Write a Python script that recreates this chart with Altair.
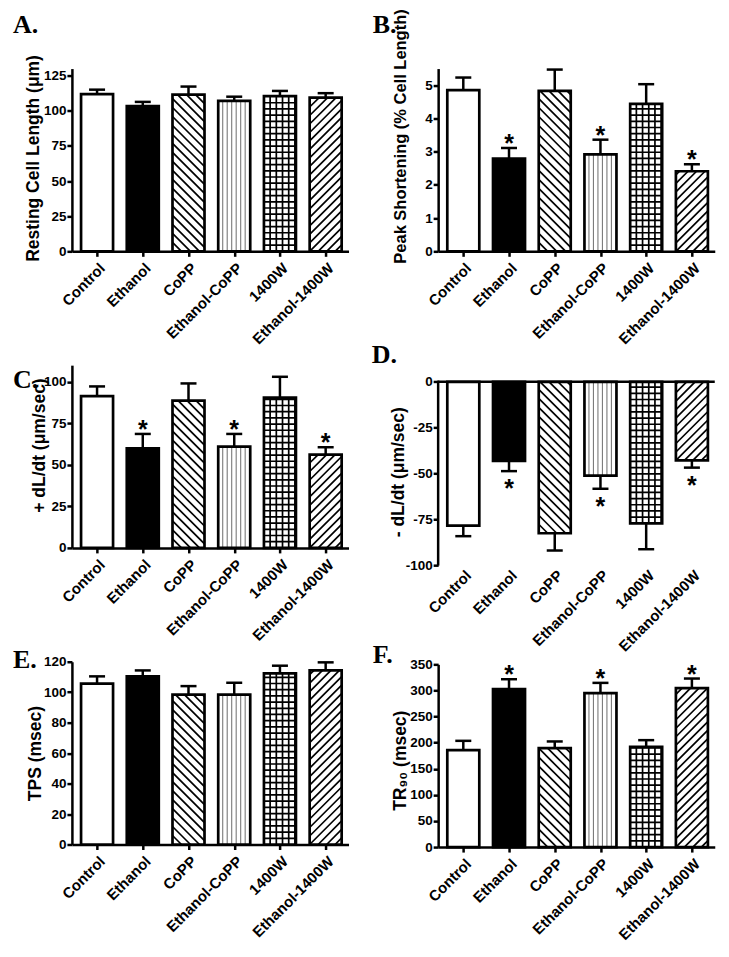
import math
import altair as alt
import pandas as pd

groups = ["Control", "Ethanol", "CoPP", "Ethanol-CoPP", "1400W", "Ethanol-1400W"]
patterns = ["none", "solid", "back", "vert", "grid", "fwd"]

a_mean = [111.8, 103.3, 111.5, 107.0, 110.4, 109.4]
a_err = [115.0, 106.3, 117.2, 110.0, 114.1, 112.5]
a_star = [0, 0, 0, 0, 0, 0]

b_mean = [4.85, 2.79, 4.83, 2.92, 4.44, 2.41]
b_err = [5.23, 3.11, 5.47, 3.36, 5.03, 2.62]
b_star = [0, 1, 0, 1, 0, 1]

c_mean = [91.4, 60.0, 88.6, 61.0, 90.4, 56.2]
c_err = [97.2, 68.6, 99.0, 68.6, 103.0, 60.6]
c_star = [0, 1, 0, 1, 0, 1]

d_mean = [-78.3, -43.1, -82.4, -51.1, -77.0, -42.8]
d_err = [-84.0, -48.6, -91.8, -58.2, -91.1, -46.7]
d_star = [0, 1, 0, 1, 0, 1]

e_mean = [105.6, 110.4, 98.4, 98.4, 112.3, 114.3]
e_err = [110.4, 114.3, 104.0, 106.2, 117.4, 119.6]
e_star = [0, 0, 0, 0, 0, 0]

f_mean = [185.8, 302.5, 189.6, 294.9, 192.1, 304.4]
f_err = [203.5, 321.5, 202.3, 314.5, 204.8, 322.8]
f_star = [0, 1, 0, 1, 0, 1]

W = 277
XMIN, XMAX = -0.55, 5.5
HALF = 0.35
CAP = 0.175
KX = W / (XMAX - XMIN)
SANS = "Liberation Sans"
SERIF = "Liberation Serif"
LABEL_EXPR = "[" + ",".join("'%s'" % g for g in groups) + "][datum.value]"


def hatch_segments(pattern, lo, hi, ylo, yhi, ky):
    w = (hi - lo) * KX
    h = (yhi - ylo) * ky
    out = []

    def add(u1, v1, u2, v2):
        out.append(dict(x=lo + u1 / KX, y=ylo + v1 / ky,
                        xe=lo + u2 / KX, ye=ylo + v2 / ky))

    if pattern == "fwd":
        d = 8.5
        for k in range(math.floor(-w / d), math.ceil(h / d) + 1):
            c = k * d
            u1, u2 = max(0.0, -c), min(w, h - c)
            if u2 - u1 > 0.6:
                add(u1, u1 + c, u2, u2 + c)
    elif pattern == "back":
        d = 9.0
        for k in range(0, math.ceil((w + h) / d) + 1):
            c = k * d
            u1, u2 = max(0.0, c - h), min(w, c)
            if u2 - u1 > 0.6:
                add(u1, c - u1, u2, c - u2)
    elif pattern == "vert":
        s = 4.5
        k = 1
        while k * s < w - 1:
            add(k * s, 0, k * s, h)
            k += 1
    elif pattern == "grid":
        g = 6.2
        k = 1
        while k * g < w - 1:
            add(k * g, 0, k * g, h)
            k += 1
        k = 1
        while k * g < h - 1:
            add(0, k * g, w, k * g)
            k += 1
    return out


def panel(mean, err, star, ydom, yvals, height, title, title_fs, title_x,
          title_y, letter, lx, ly, star_dy, neg=False, guard=None):
    ky = height / (ydom[1] - ydom[0])
    rows, diag, vert, grid = [], [], [], []
    for i, (g, p, m, e, s) in enumerate(zip(groups, patterns, mean, err, star)):
        lo, hi = i - HALF, i + HALF
        rows.append(dict(pos=i, name=g, value=m, base=0.0, err=e, lo=lo, hi=hi,
                         cl=i - CAP, cr=i + CAP,
                         fill="#000000" if p == "solid" else "#ffffff", star=s))
        segs = hatch_segments(p, lo, hi, min(0.0, m), max(0.0, m), ky)
        if p in ("fwd", "back"):
            diag += segs
        elif p == "vert":
            vert += segs
        elif p == "grid":
            grid += segs
    df = pd.DataFrame(rows)

    xscale = alt.Scale(domain=[XMIN, XMAX], nice=False, zero=False)
    yscale = alt.Scale(domain=list(ydom), nice=False, zero=False)
    if neg:
        xaxis = alt.Axis(values=list(range(6)), labelExpr=LABEL_EXPR, title=None,
                         labelAngle=-45, labelAlign="right", labelBaseline="top",
                         labelFontSize=15, labelPadding=2, domain=False,
                         ticks=False, labelOverlap=False, labelFlush=False,
                         grid=False)
    else:
        xaxis = alt.Axis(values=list(range(6)), labelExpr=LABEL_EXPR, title=None,
                         labelAngle=-45, labelAlign="right", labelBaseline="top",
                         labelFontSize=15, labelPadding=4, labelOverlap=False,
                         labelFlush=False, grid=False)
    yaxis = alt.Axis(values=yvals, title=title, titleFontSize=title_fs,
                     titleX=title_x, titleY=title_y, titleAlign="center",
                     titleBaseline="bottom", labelFontSize=13.5, labelPadding=1,
                     labelExpr="'' + datum.value", domain=not neg, grid=False,
                     labelOverlap=False, labelFlush=False)

    def X(f):
        return alt.X(f, type="quantitative", scale=xscale, axis=xaxis)

    def Y(f):
        return alt.Y(f, type="quantitative", scale=yscale, axis=yaxis)

    base = alt.Chart(df)
    layers = [
        base.mark_rect(strokeWidth=0).encode(
            x=X("lo"), x2="hi", y=Y("value"), y2="base",
            fill=alt.Fill("fill:N", scale=None)),
    ]
    for segs, color, sw in ((diag, "#000000", 1.7), (vert, "#7a7a7a", 1.1),
                            (grid, "#000000", 1.7)):
        if segs:
            layers.append(alt.Chart(pd.DataFrame(segs)).mark_rule(
                color=color, strokeWidth=sw).encode(
                x=X("x"), x2="xe", y=Y("y"), y2="ye"))
    layers += [
        base.mark_rect(fillOpacity=0, stroke="#000000", strokeWidth=2.7).encode(
            x=X("lo"), x2="hi", y=Y("value"), y2="base"),
        base.mark_rule(color="#000000", strokeWidth=2.5).encode(
            x=X("pos"), y=Y("value"), y2="err"),
        base.mark_rule(color="#000000", strokeWidth=2.5).encode(
            x=X("cl"), x2="cr", y=Y("err")),
    ]
    sdf = df[df["star"] == 1]
    if len(sdf):
        layers.append(alt.Chart(sdf).mark_text(
            text="*", font=SANS, fontSize=25, fontWeight="bold", color="#000000",
            baseline="alphabetic", dy=star_dy).encode(x=X("pos"), y=Y("err")))
    one = pd.DataFrame({"k": [0]})
    if neg:
        zero_px = ydom[1] * ky
        layers.append(alt.Chart(one).mark_rule(color="#000000", strokeWidth=2.5).encode(
            x=alt.value(0), x2=alt.value(W), y=alt.value(zero_px)))
        layers.append(alt.Chart(one).mark_rule(color="#000000", strokeWidth=2.5).encode(
            x=alt.value(0), y=alt.value(zero_px - 1.2), y2=alt.value(height)))
    if guard is not None:
        layers.append(alt.Chart(one).mark_rule(strokeOpacity=0, strokeWidth=0.1).encode(
            x=alt.value(0), y=alt.value(guard), y2=alt.value(0)))
    layers.append(alt.Chart(one).mark_text(
        text=letter, font=SERIF, fontSize=26, fontWeight="bold", color="#000000",
        align="left", baseline="alphabetic").encode(x=alt.value(lx), y=alt.value(ly)))
    return alt.layer(*layers).properties(width=W, height=height)


pA = panel(a_mean, a_err, a_star, (0, 130), [0, 25, 50, 75, 100, 125], 183,
           "Resting Cell Length (μm)", 17.5, -29, 89.5, "A.", -59, -36, 4, guard=-60)
pB = panel(b_mean, b_err, b_star, (0, 5.5), [0, 1, 2, 3, 4, 5], 183,
           "Peak Shortening (% Cell Length)", 16.5, -29.5, 67.5, "B.", -65.5, -36, 4,
           guard=-60)
pC = panel(c_mean, c_err, c_star, (0, 110), [0, 25, 50, 75, 100], 183,
           "+ dL/dt (μm/sec)", 17.5, -23, 80, "C.", -59, 23, 4)
pD = panel(d_mean, d_err, d_star, (-100, 17.6), [-100, -75, -50, -25, 0], 216.4,
           "- dL/dt (μm/sec)", 17.5, -30.5, 122.4, "D.", -66.5, 14, 26, neg=True)
pE = panel(e_mean, e_err, e_star, (0, 120), [0, 20, 40, 60, 80, 100, 120], 183,
           "TPS (msec)", 17.5, -27.5, 91.5, "E.", -59, 6, 4)
pF = panel(f_mean, f_err, f_star, (0, 350), [0, 50, 100, 150, 200, 250, 300, 350], 183,
           "TR₉₀ (msec)", 17.5, -28.5, 96, "F.", -65.5, -1, 4)

col1 = alt.vconcat(pA, pC, pE, spacing=114, bounds="flush")
col2 = alt.vconcat(pB, pD, pF, spacing=98.3, bounds="flush")

chart = alt.hconcat(col1, col2, spacing=22.75).properties(
    padding={"left": 5, "top": 0, "right": 5, "bottom": 5}
).configure_view(stroke=None).configure_axis(
    domainColor="#000000", domainWidth=2.5, tickColor="#000000", tickWidth=2.5,
    tickSize=5, labelFont=SANS, labelFontWeight="bold", labelColor="#000000",
    titleFont=SANS, titleFontWeight="bold", titleColor="#000000", grid=False
)

chart.save("out.html", embed_options={"renderer": "svg", "actions": False})
